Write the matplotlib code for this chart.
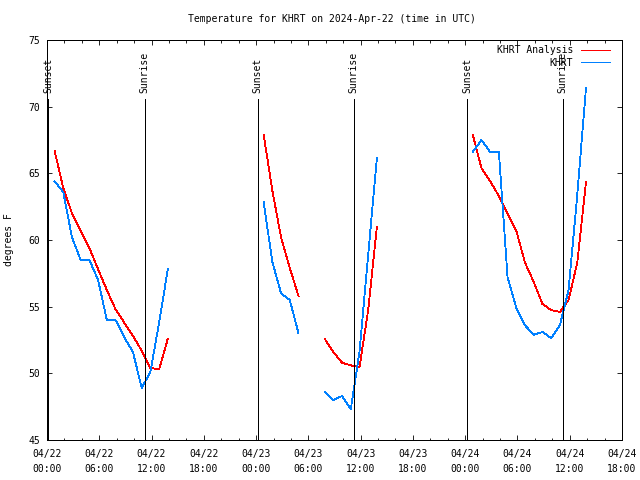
import matplotlib
matplotlib.use('Agg')
import matplotlib.pyplot as plt
import matplotlib.dates as mdates
import pandas as pd

# hourly segments (gaps = missing data)
seg_starts = ['2024-04-22 00:52', '2024-04-23 00:52', '2024-04-23 07:52', '2024-04-24 00:52']

# KHRT Analysis (red)
anl_1 = [66.7, 63.9, 62.0, 60.7, 59.4, 57.8, 56.25, 54.8, 53.8, 52.8, 51.7, 50.4, 50.3, 52.6]
anl_2 = [67.9, 63.7, 60.2, 57.9, 55.8]
anl_3 = [52.6, 51.6, 50.8, 50.6, 50.45, 54.75, 61.0]
anl_4 = [67.9, 65.4, 64.4, 63.3, 62.0, 60.7, 58.3, 56.85, 55.2, 54.75, 54.6, 55.5, 58.3, 64.35]

# KHRT observations (blue)
obs_1 = [64.4, 63.6, 60.2, 58.5, 58.5, 57.0, 54.0, 54.0, 52.7, 51.6, 48.9, 50.1, 53.8, 57.8]
obs_2 = [62.85, 58.35, 56.0, 55.5, 53.0]
obs_3 = [48.6, 48.0, 48.3, 47.3, 51.6, 58.9, 66.15]
obs_4 = [66.6, 67.5, 66.6, 66.6, 57.2, 54.9, 53.6, 52.9, 53.1, 52.65, 53.6, 56.25, 63.4, 71.4]

sunsets = ['2024-04-22 00:10', '2024-04-23 00:11', '2024-04-24 00:12']
sunrises = ['2024-04-22 11:14', '2024-04-23 11:13', '2024-04-24 11:12']

plt.rcParams['font.family'] = 'DejaVu Sans Mono'
plt.rcParams['font.size'] = 7

fig = plt.figure(figsize=(6.4, 4.8), dpi=100)
ax = fig.add_axes([47 / 640, 40 / 480, 575 / 640, 400 / 480])

LW = 0.6

for i, (start, vals) in enumerate(zip(seg_starts, [anl_1, anl_2, anl_3, anl_4])):
    t = pd.date_range(start, periods=len(vals), freq='h')
    ax.plot(t, vals, color='#ff0000', lw=LW, antialiased=False,
            label='KHRT Analysis' if i == 0 else None)
for i, (start, vals) in enumerate(zip(seg_starts, [obs_1, obs_2, obs_3, obs_4])):
    t = pd.date_range(start, periods=len(vals), freq='h')
    ax.plot(t, vals, color='#0080ff', lw=LW, antialiased=False,
            label='KHRT' if i == 0 else None)

for name, times in [('Sunset', sunsets), ('Sunrise', sunrises)]:
    for s in pd.to_datetime(times):
        ax.vlines(s, 45, 70.6, color='black', lw=LW, antialiased=False)
        ax.text(s, 71.05, name, rotation=90, ha='center', va='bottom')

ax.set_xlim(pd.Timestamp('2024-04-22 00:00'), pd.Timestamp('2024-04-24 18:00'))
ax.set_ylim(45, 75)
ax.set_yticks([45, 50, 55, 60, 65, 70, 75])
ax.xaxis.set_major_locator(mdates.HourLocator(byhour=[0, 6, 12, 18]))
ax.xaxis.set_minor_locator(mdates.HourLocator(byhour=range(0, 24, 2)))
ax.xaxis.set_major_formatter(mdates.DateFormatter('%m/%d\n%H:%M'))
ax.tick_params(which='both', direction='in', top=True, right=True, width=LW)
ax.tick_params(which='major', length=3.4)
ax.tick_params(which='minor', length=1.8)
ax.tick_params(axis='x', pad=6.5)
ax.tick_params(axis='y', pad=5)
for lbl in ax.get_xticklabels():
    lbl.set_linespacing(1.6)
for sp in ax.spines.values():
    sp.set_linewidth(LW)
    sp.set_antialiased(False)

ax.set_ylabel('degrees F')
ax.yaxis.set_label_coords(-0.058, 0.5)

ax.text(0.495, 1.0525, 'Temperature for KHRT on 2024-Apr-22 (time in UTC)',
        transform=ax.transAxes, ha='center', va='center')

leg = ax.legend(loc='upper right', bbox_to_anchor=(0.979, 0.987), frameon=False,
                markerfirst=False, borderpad=0, borderaxespad=0, handlelength=3.0,
                handletextpad=0.8, labelspacing=0.25)
for ln in leg.get_lines():
    ln.set_linewidth(LW)
    ln.set_antialiased(False)

fig.savefig('out.png', dpi=100)
